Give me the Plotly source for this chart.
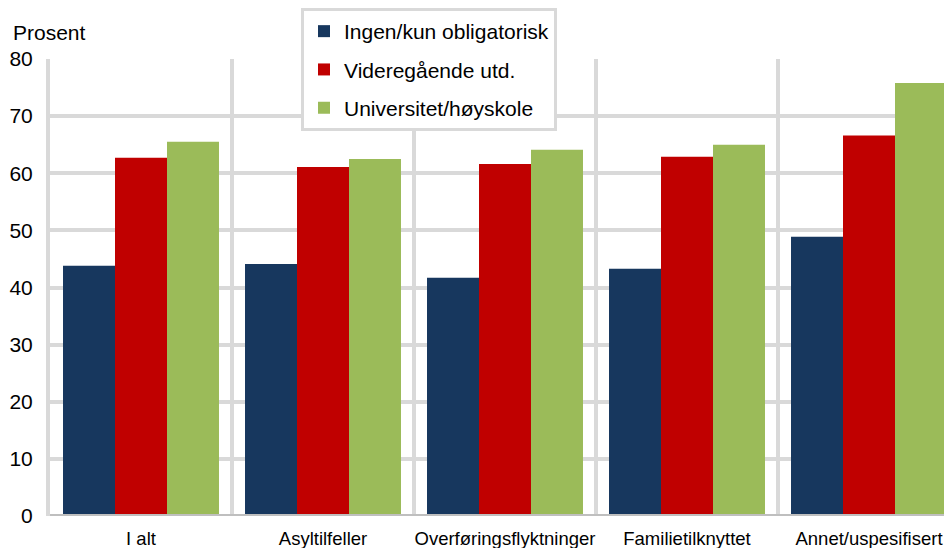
import plotly.graph_objects as go

categories = ["I alt", "Asyltilfeller", "Overføringsflyktninger", "Familietilknyttet", "Annet/uspesifisert"]
series_names = ["Ingen/kun obligatorisk", "Videregående utd.", "Universitet/høyskole"]
ingen = [43.8, 44.1, 41.7, 43.3, 48.9]
vgs = [62.7, 61.1, 61.6, 62.9, 66.6]
uni = [65.5, 62.5, 64.1, 65.0, 75.8]
colors = ["#17375E", "#C00000", "#9BBB59"]
y_ticks = [0, 10, 20, 30, 40, 50, 60, 70, 80]

FONT = "Liberation Sans, Arial, sans-serif"
FS = 21

# page body has an 8px margin; plot area in figure coords: l=42, r=952, t=51, b=508
W, H = 952, 548
L, R, T, B = 42, 0, 51, 40
PW, PH = W - L - R, H - T - B

fig = go.Figure()
for i, (name, vals) in enumerate(zip(series_names, [ingen, vgs, uni])):
    fig.add_trace(go.Bar(
        x=categories, y=vals, name=name, legendgroup=f"g{i}",
        marker=dict(color=colors[i], line=dict(width=0)),
    ))

fig.update_layout(
    width=W, height=H,
    margin=dict(l=L, r=R, t=T, b=B),
    paper_bgcolor="white", plot_bgcolor="white",
    barmode="group", bargap=0.143, bargroupgap=0,
    font=dict(family=FONT, size=FS, color="#000000"),
    showlegend=True,
    legend=dict(
        x=(293 - L) / PW, y=1 + (T - 0) / PH, xanchor="left", yanchor="top",
        bgcolor="white", bordercolor="#D9D9D9", borderwidth=3,
        font=dict(size=FS), tracegroupgap=8,
        itemclick=False,
    ),
    xaxis=dict(
        type="category", range=[-0.5, 4.5],
        tickson="boundaries", showgrid=True, gridcolor="#D9D9D9", gridwidth=4,
        ticks="", ticklabelstandoff=9,
        tickangle=0,
        showline=False, zeroline=False,
        tickfont=dict(size=18.5), automargin=False,
    ),
    yaxis=dict(
        range=[0, 80], tickvals=y_ticks, showgrid=True, gridcolor="#D9D9D9", gridwidth=4,
        zeroline=False, showline=True, linecolor="#D9D9D9", linewidth=4,
        ticks="", ticklabelstandoff=9,
        tickfont=dict(size=FS), automargin=False,
    ),
)
fig.add_annotation(text="Prosent", xref="paper", yref="paper",
                   x=(3 - L) / PW, y=1 + (T - 25) / PH, xanchor="left", yanchor="middle",
                   showarrow=False, font=dict(size=FS))
# baseline at zero
fig.add_shape(type="line", xref="paper", yref="y", x0=0, x1=1, y0=0, y1=0,
              line=dict(color="#BFBFBF", width=4), layer="above")

fig.write_html("out.html")
